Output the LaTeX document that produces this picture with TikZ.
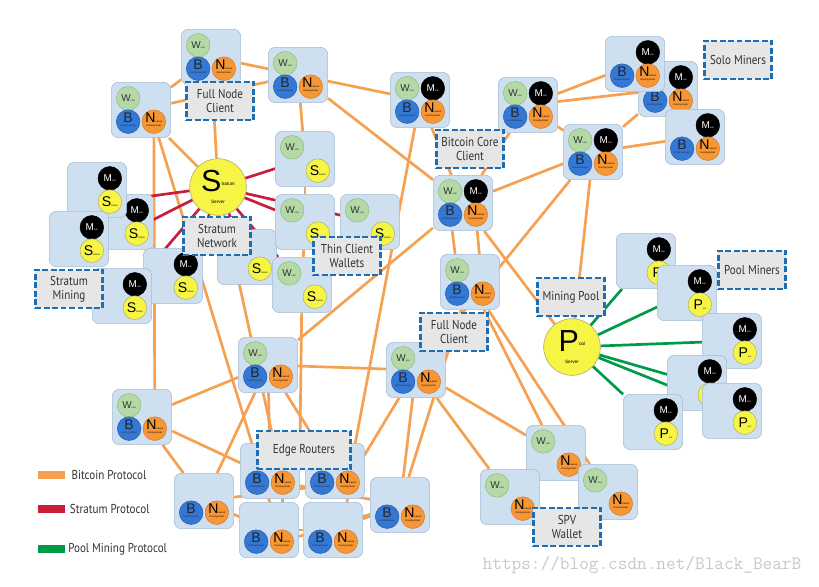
\documentclass[tikz,border=0pt]{standalone}
\usepackage{fontspec}
\setmainfont{Liberation Sans}
\newfontfamily\capfont{PT Sans}[FakeStretch=0.86]
\usetikzlibrary{backgrounds,positioning}
\tikzset{>=latex}

\definecolor{btcorange}{RGB}{246,160,82}
\definecolor{stratred}{RGB}{200,30,58}
\definecolor{poolgreen}{RGB}{0,153,72}
\definecolor{peerfill}{RGB}{206,223,240}
\definecolor{peeredge}{RGB}{165,188,212}
\definecolor{walletfill}{RGB}{181,217,166}
\definecolor{walletedge}{RGB}{140,186,122}
\definecolor{chainfill}{RGB}{52,120,214}
\definecolor{chainedge}{RGB}{36,90,170}
\definecolor{routerfill}{RGB}{246,150,52}
\definecolor{routeredge}{RGB}{210,120,40}
\definecolor{yellowfill}{RGB}{246,245,70}
\definecolor{yellowedge}{RGB}{170,170,110}
\definecolor{tagfill}{RGB}{230,230,230}
\definecolor{tagblue}{RGB}{30,110,180}
\definecolor{darktext}{RGB}{50,50,50}
\definecolor{watermark}{RGB}{200,200,200}

\newcommand{\tinytext}{\fontsize{2}{2.2}\selectfont}
\newcommand{\letter}[1]{\fontsize{#1}{#1}\selectfont}
% big letter with a tiny line below it, kept out of the circle size
\newcommand{\circtext}[2]{\smash{\tinytext\begin{tabular}{@{}c@{}}#1\\[1.2pt]#2\end{tabular}}}

\tikzstyle{peer} = [rectangle, rounded corners=6pt, minimum width=1.78cm, minimum height=1.66cm, fill=peerfill, draw=peeredge, line width=0.5pt]
\tikzstyle{circ} = [circle, minimum size=0.71cm, inner sep=0pt, line width=0.4pt, text=darktext]
\tikzstyle{wallet} = [circ, fill=walletfill, draw=walletedge, xshift=-0.385cm, yshift=0.35cm, node contents={\letter{8.5}W{\tinytext allet}}]
\tikzstyle{miner} = [circ, fill=black, draw=black, text=white, xshift=0.385cm, yshift=0.35cm, node contents={\letter{8.5}M{\tinytext iner}}]
\tikzstyle{fullbc} = [circ, fill=chainfill, draw=chainedge, text=black!85, xshift=-0.385cm, yshift=-0.35cm, node contents={\circtext{\letter{12}B}{Full Blockchain}}]
\tikzstyle{router} = [circ, fill=routerfill, draw=routeredge, text=black, xshift=0.385cm, yshift=-0.35cm, node contents={\circtext{{\letter{12}N}etwork}{Routing Node}}]
\tikzstyle{stratum} = [circ, fill=yellowfill, draw=yellowedge, text=black, xshift=0.385cm, yshift=-0.35cm, node contents={{\letter{12}S}{\tinytext tratum}}]
\tikzstyle{poolcl} = [circ, fill=yellowfill, draw=yellowedge, text=black, xshift=0.385cm, yshift=-0.35cm, node contents={{\letter{12}P}{\tinytext ool}}]
\tikzstyle{server} = [circle, minimum size=1.7cm, inner sep=0pt, fill=yellowfill, draw=yellowedge, line width=0.5pt, align=center]
\tikzstyle{groupname} = [rectangle, minimum width=2.02cm, minimum height=1.15cm, fill=tagfill, draw=tagblue, line width=2.2pt, dash pattern=on 5pt off 2.2pt, align=center, text=darktext, font=\capfont\fontsize{11}{12}\selectfont]
\tikzstyle{btcline} = [draw=btcorange, line width=2.3pt]
\tikzstyle{stratline} = [draw=stratred, line width=2.3pt]
\tikzstyle{poolline} = [draw=poolgreen, line width=2.3pt]
\tikzstyle{legendbar} = [rectangle, minimum width=0.81cm, minimum height=0.24cm, inner sep=0pt]
\tikzstyle{legendlabel} = [text=darktext, inner sep=0pt, font=\capfont\fontsize{11}{12}\selectfont]

% one peer: name, position, list of circles
\newcommand{\peer}[3]{%
  \node[peer] (#1) at (#2) {};
  \foreach \kind in {#3} {\node (#1-\kind) at (#1) [\kind];}
}

\begin{document}
\begin{tikzpicture}[x=0.03cm, y=-0.03cm]
\useasboundingbox (0,0) rectangle (819,586);

% full node clients, top left
\peer{fn1}{211,57}{wallet,fullbc,router}
\peer{fn2}{298,75}{wallet,fullbc,router}
\peer{fn3}{141,110}{wallet,fullbc,router}

% stratum miners
\peer{sm2}{124,222}{miner,stratum}
\peer{sm1}{97,190}{miner,stratum}
\peer{sm3}{79,239}{miner,stratum}
\peer{sm6}{247,257}{stratum}
\peer{sm5}{173,276}{miner,stratum}
\peer{sm4}{122,296}{miner,stratum}

% thin clients
\peer{tc1}{305,159}{wallet,stratum}
\peer{tc2}{305,222}{wallet,stratum}
\peer{tc3}{370,222}{wallet,stratum}
\peer{tc4}{302,285}{wallet,stratum}

% bitcoin core
\peer{bc1}{420,100}{wallet,miner,fullbc,router}
\peer{bc2}{528,105}{wallet,miner,fullbc,router}
\peer{bc3}{463,203}{wallet,miner,fullbc,router}
\peer{bc4}{593,152}{wallet,miner,fullbc,router}

% solo miners
\peer{so2}{668,89}{miner,fullbc,router}
\peer{so1}{635,64}{miner,fullbc,router}
\peer{so3}{695,137}{miner,fullbc,router}

% full node clients, middle
\peer{fn4}{470,282}{wallet,fullbc,router}
\peer{fn5}{416,370}{wallet,fullbc,router}
\peer{fn6}{268,365}{wallet,fullbc,router}
\peer{fn7}{142,417}{wallet,fullbc,router}

% spv wallets
\peer{spv1}{556,453}{wallet,router}
\peer{spv2}{510,497}{wallet,router}
\peer{spv3}{608,492}{wallet,router}

% edge routers
\peer{er1}{270,471}{fullbc,router}
\peer{er2}{335,471}{fullbc,router}
\peer{er3}{204,501}{fullbc,router}
\peer{er4}{269,530}{fullbc,router}
\peer{er5}{333,530}{fullbc,router}
\peer{er6}{400,505}{fullbc,router}

% pool miners
\peer{pm1}{646,261}{miner,poolcl}
\peer{pm2}{687,293}{miner,poolcl}
\peer{pm3}{732,341}{miner,poolcl}
\peer{pm4}{697,383}{miner,poolcl}
\peer{pm5}{732,411}{miner,poolcl}
\peer{pm6}{653,422}{miner,poolcl}

% servers
\node[server] (strsrv) at (218,187) {{\letter{26}S}\raisebox{5pt}{\fontsize{4}{4}\selectfont tratum}\\[-2pt]{\fontsize{4}{4}\selectfont Server}};
\node[server] (poolsrv) at (572,347) {{\letter{26}P}\raisebox{5pt}{\fontsize{4}{4}\selectfont ool}\\[-2pt]{\fontsize{4}{4}\selectfont Server}};

% group names
\node[groupname] (lbfull1) at (220,101) {Full Node\\Client};
\node[groupname] (lbstratnet) at (217,236) {Stratum\\Network};
\node[groupname] (lbthin) at (347,256) {Thin Client\\Wallets};
\node[groupname] (lbstratmin) at (69,289) {Stratum\\Mining};
\node[groupname] (lbcore) at (470,149) {Bitcoin Core\\Client};
\node[groupname] (lbsolo) at (738,60) {Solo Miners};
\node[groupname] (lbpool) at (571,297) {Mining Pool};
\node[groupname] (lbpoolmin) at (752,270) {Pool Miners};
\node[groupname] (lbfull2) at (454,332) {Full Node\\Client};
\node[groupname, minimum width=2.8cm] (lbedge) at (304,450) {Edge Routers};
\node[groupname] (lbspv) at (567,527) {SPV\\Wallet};

% legend
\node[legendbar, fill=btcorange] (legbtc) at (51,475) {};
\node[legendlabel, right=0.2cm of legbtc] {Bitcoin Protocol};
\node[legendbar, fill=stratred] (legstrat) at (51,509) {};
\node[legendlabel, right=0.15cm of legstrat] {Stratum Protocol};
\node[legendbar, fill=poolgreen] (legpool) at (51,549) {};
\node[legendlabel, right=0.1cm of legpool] {Pool Mining Protocol};

\node[text=watermark, font=\ttfamily\fontsize{16}{16}\selectfont] (wmark) at (642,565) {https://blog.csdn.net/Black\_BearB};

\begin{scope}[on background layer]
% bitcoin protocol
\draw [btcline] (fn1)--(fn2);
\draw [btcline] (fn3)--(fn1);
\draw [btcline] (fn3)--(fn2);
\draw [btcline] (fn1)--(strsrv);
\draw [btcline] (fn3)--(strsrv);
\draw [btcline] (fn3-router)--(fn7-router);
\draw [btcline] (fn3-router)--(er4-router);
\draw [btcline] (fn2)--(bc1);
\draw [btcline] (fn2)--(tc1);
\draw [btcline] (fn2)--(bc3);
\draw [btcline] (tc1)--(tc2);
\draw [btcline] (tc2)--(tc4);
\draw [btcline] (tc4)--(er1.north east);
\draw [btcline] (strsrv)--(er1-router);
\draw [btcline] (fn7)--(fn6);
\draw [btcline] (fn7)--(er1-router);
\draw [btcline] (fn7)--(er3);
\draw [btcline] (fn6)--(er3);
\draw [btcline] (fn6)--(er1);
\draw [btcline] (fn6)--(er2);
\draw [btcline] (fn6)--(fn5);
\draw [btcline] (fn6)--(bc3);
\draw [btcline] (bc1)--(bc3);
\draw [btcline] (bc1)--(er2-router);
\draw [btcline] (bc2)--(bc3);
\draw [btcline] (bc2)--(bc4);
\draw [btcline] (bc2)--(so1);
\draw [btcline] (bc2)--(so2);
\draw [btcline] (bc3)--(bc4);
\draw [btcline] (bc3-fullbc)--(fn4-wallet);
\draw [btcline] (bc3-router)--(fn4-router);
\draw [btcline] (bc3)--(poolsrv);
\draw [btcline] (bc4)--(poolsrv);
\draw [btcline] (bc4)--(fn5);
\draw [btcline] (bc4)--(so2);
\draw [btcline] (bc4)--(so3);
\draw [btcline] (fn4)--(spv1);
\draw [btcline] (fn4)--(spv3);
\draw [btcline] (fn4)--(er6);
\draw [btcline] (fn5)--(spv1);
\draw [btcline] (fn5)--(spv2);
\draw [btcline] (fn5)--(er2-router);
\draw [btcline] (fn5)--(er6);
\draw [btcline] (er1-router)--(er4-router);
\draw [btcline] (er2-router)--(er5-router);
\draw [btcline] (er1-router)--(er6);
\draw [btcline] (er2-router)--(er3);
\draw [btcline] (er4-router)--(er6);
\draw [btcline] (er3)--(er4);
\draw [btcline] (er4)--(er5);
\draw [btcline] (er5)--(er6);
% stratum protocol
\draw [stratline] (strsrv)--(sm1-stratum);
\draw [stratline] (strsrv)--(sm3-stratum);
\draw [stratline] (strsrv)--(sm4-miner);
\draw [stratline] (strsrv)--(sm5-stratum);
\draw [stratline] (strsrv)--(sm6);
\draw [stratline] (strsrv)--(tc1);
\draw [stratline] (strsrv)--(tc2);
\draw [stratline] (strsrv)--(tc3);
\draw [stratline] (strsrv)--(tc4);
% pool mining protocol
\foreach \i in {1,...,6}
  \draw [poolline] (poolsrv)--(pm\i);
\end{scope}

\end{tikzpicture}
\end{document}
